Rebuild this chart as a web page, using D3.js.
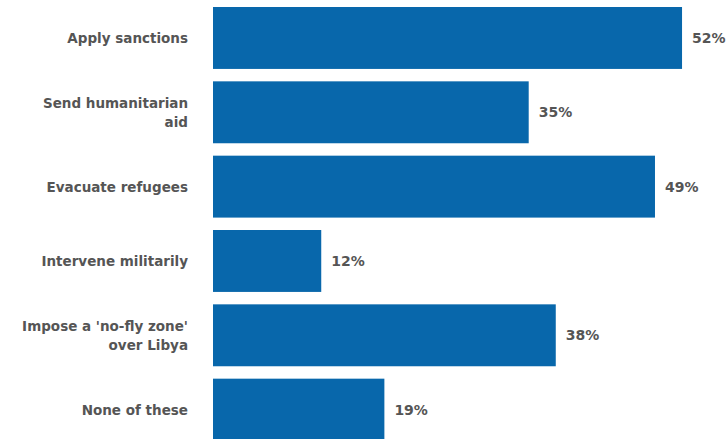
<!DOCTYPE html>
<html>
<head>
<meta charset="utf-8">
<script src="https://cdn.jsdelivr.net/npm/d3@7"></script>
<style>
  html, body { margin: 0; padding: 0; background: #fff; }
  svg { display: block; }
</style>
</head>
<body>
<svg id="chart" width="726" height="439"></svg>
<script>
// Survey responses: actions supported, share of respondents (%)
const categories = [
  "Apply sanctions",
  "Send humanitarian aid",
  "Evacuate refugees",
  "Intervene militarily",
  "Impose a 'no-fly zone' over Libya",
  "None of these"
];
const values = [52, 35, 49, 12, 38, 19];
// how each category label breaks across lines
const labelLines = [
  ["Apply sanctions"],
  ["Send humanitarian", "aid"],
  ["Evacuate refugees"],
  ["Intervene militarily"],
  ["Impose a 'no-fly zone'", "over Libya"],
  ["None of these"]
];

const svg = d3.select("#chart");
const barColor = "#0867ab";
const textColor = "#555555";
const font = "'DejaVu Sans', Verdana, sans-serif";

const x = d3.scaleLinear().domain([0, 100]).range([213, 213 + 902]);
const y = d3.scaleBand()
  .domain(categories)
  .range([0.8, 446.8])
  .paddingInner(0.167)
  .paddingOuter(0.0835);

// bars
svg.append("g").selectAll("rect")
  .data(categories)
  .join("rect")
  .attr("x", x(0))
  .attr("y", d => y(d))
  .attr("width", (d, i) => x(values[i]) - x(0))
  .attr("height", y.bandwidth())
  .attr("fill", barColor);

// category labels
const axis = d3.axisLeft(y).tickSize(0).tickPadding(25);
const gAxis = svg.append("g").attr("transform", `translate(${x(0)},0)`).call(axis);
gAxis.select(".domain").remove();
gAxis.selectAll("text")
  .attr("fill", textColor)
  .attr("dy", null)
  .style("font-family", font)
  .style("font-size", "13.5px")
  .style("font-weight", "bold")
  .each(function(d) {
    const t = d3.select(this);
    const lines = labelLines[categories.indexOf(d)];
    const lh = 19;
    const x0 = t.attr("x");
    t.text(null);
    lines.forEach((l, i) => {
      t.append("tspan")
        .attr("x", x0)
        .attr("dy", i === 0 ? (-(lines.length - 1) * lh / 2 + 5) + "px" : lh + "px")
        .text(l);
    });
  });

// value labels
svg.append("g").selectAll("text")
  .data(categories)
  .join("text")
  .attr("x", (d, i) => x(values[i]) + 10)
  .attr("y", d => y(d) + y.bandwidth() / 2)
  .attr("dy", "0.35em")
  .attr("fill", textColor)
  .style("font-family", font)
  .style("font-size", "14px")
  .style("font-weight", "bold")
  .text((d, i) => values[i] + "%");
</script>
</body>
</html>
